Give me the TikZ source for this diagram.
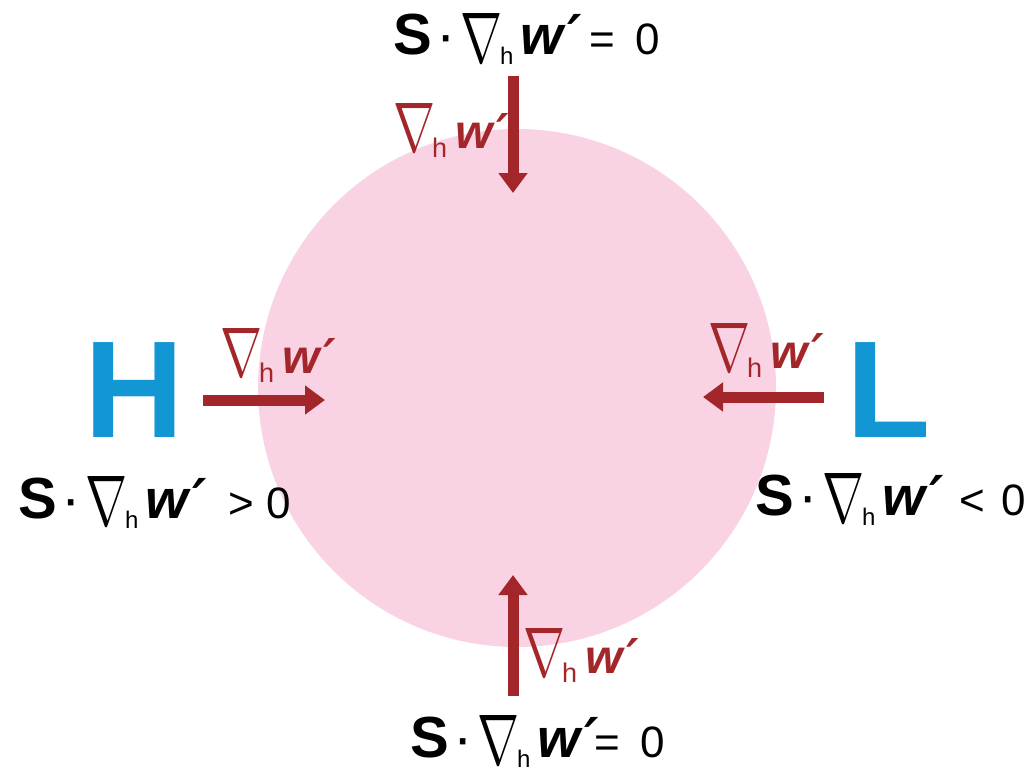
\documentclass[tikz,border=0pt]{standalone}
\usepackage{graphicx}
\usepackage{fontspec}
\setmainfont{Liberation Sans}
\newfontfamily\nabf{DejaVu Sans}
\usetikzlibrary{arrows.meta}
\definecolor{pinkfill}{HTML}{F9D3E4}
\definecolor{arrred}{HTML}{A3262A}
\definecolor{hlblue}{HTML}{1296D4}
% black gradient term
\newcommand{\Sdot}{{\fontsize{58}{58}\selectfont\bfseries S}\hspace{5pt}{\fontsize{58}{58}\selectfont ·}\hspace{4pt}}
\newcommand{\gw}{\raisebox{-7pt}{\resizebox{42pt}{49pt}{$\nabla$}}\hspace{-2pt}\raisebox{-10pt}{\fontsize{24}{24}\selectfont h}\hspace{7pt}{\fontsize{55}{55}\selectfont\bfseries\itshape w\hspace{4pt}{\nabf ′}}}
% red gradient term
\newcommand{\rgw}{\raisebox{-3pt}{\resizebox{42pt}{48pt}{$\nabla$}}\hspace{-3pt}\raisebox{-9pt}{\fontsize{27}{27}\selectfont h}\hspace{8pt}{\fontsize{48}{48}\selectfont\bfseries\itshape w\hspace{4pt}{\nabf ′}}}
\newcommand{\smtxt}[1]{{\fontsize{44}{44}\selectfont #1}}
\tikzset{
  lab/.style={inner sep=0pt, anchor=base west, text=black},
  rlab/.style={inner sep=0pt, anchor=base west, text=arrred},
  big/.style={inner sep=0pt, anchor=base west, text=hlblue, text height=99pt, text depth=0pt, font=\fontsize{138}{138}\selectfont\bfseries},
  flow/.style={draw=arrred, line width=11pt, -{Triangle[width=28pt,length=20pt]}},
}
\begin{document}
\begin{tikzpicture}[x=1pt,y=-1pt]
\useasboundingbox (0,0) rectangle (1033,776);
\node[circle, fill=pinkfill, minimum size=518pt, inner sep=0pt] (disk) at (517,388) {};
% big letters
\node[big] (H) at (84,437) {H};
\node[big] (L) at (846,437) {L};
% black labels
\node[lab] (top) at (393,55) {\Sdot\gw\hspace{8pt}\smtxt{=\hspace{20pt}0}};
\node[lab] (left) at (18,518) {\Sdot\gw\hspace{22pt}\smtxt{>\hspace{12pt}0}};
\node[lab] (right) at (755,515) {\Sdot\gw\hspace{16pt}\smtxt{<\hspace{16pt}0}};
\node[lab] (bottom) at (410,757) {\Sdot\gw\hspace{-4pt}\smtxt{=\hspace{20pt}0}};
% red labels
\node[rlab] (rtop) at (393,148) {\rgw};
\node[rlab] (rleft) at (220,373) {\rgw};
\node[rlab] (rright) at (708,368) {\rgw};
\node[rlab] (rbottom) at (523,673) {\rgw};
% arrow ends
\coordinate (a1s) at (513,76);  \coordinate (a1e) at (513,193);
\coordinate (a2s) at (203,400); \coordinate (a2e) at (325,400);
\coordinate (a3s) at (824,397); \coordinate (a3e) at (703,397);
\coordinate (a4s) at (513,696); \coordinate (a4e) at (513,575);
\draw[flow] (a1s) -- (a1e);
\draw[flow] (a2s) -- (a2e);
\draw[flow] (a3s) -- (a3e);
\draw[flow] (a4s) -- (a4e);
\end{tikzpicture}
\end{document}
